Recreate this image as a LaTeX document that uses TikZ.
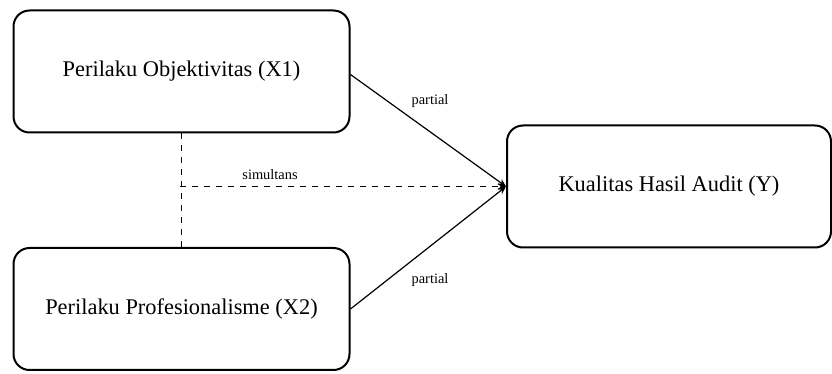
\documentclass[tikz,border=0pt]{standalone}
\usepackage{fontspec}
\setmainfont{Liberation Serif}
\usetikzlibrary{arrows.meta,positioning,calc}

\begin{document}
\begin{tikzpicture}[x=0.5pt,y=-0.5pt,>={Stealth[length=4pt,width=3.5pt]},font=\fontsize{11.2}{13}\selectfont,
 var/.style={draw,line width=1pt,rounded corners=8pt,minimum width=168pt,minimum height=61pt,inner sep=0pt},
 lbl/.style={font=\fontsize{7.2}{9}\selectfont,inner sep=1pt},
 conn/.style={line width=0.6pt}]
\useasboundingbox (0,0) rectangle (832,374);
\node[var] (X1) at (181.5,71.5) {Perilaku Objektivitas (X1)};
\node[var] (X2) at (181.5,309.0) {Perilaku Profesionalisme (X2)};
\node[var,minimum width=162pt] (Y) at (669.0,186.5) {Kualitas Hasil Audit (Y)};
\coordinate (M) at (180,186.5);
\draw[conn,dashed] (X1.south) -- (X2.north);
\draw[conn,->,dashed] (M) -- (Y.west);
\draw[conn,->] ($(X1.east)+(0,3)$) -- (Y.west);
\draw[conn,->] (X2.east) -- (Y.west);
\node[lbl] (p1) at (430,101) {partial};
\node[lbl] (s) at (270,175) {simultans};
\node[lbl] (p2) at (430,280) {partial};
\end{tikzpicture}
\end{document}
